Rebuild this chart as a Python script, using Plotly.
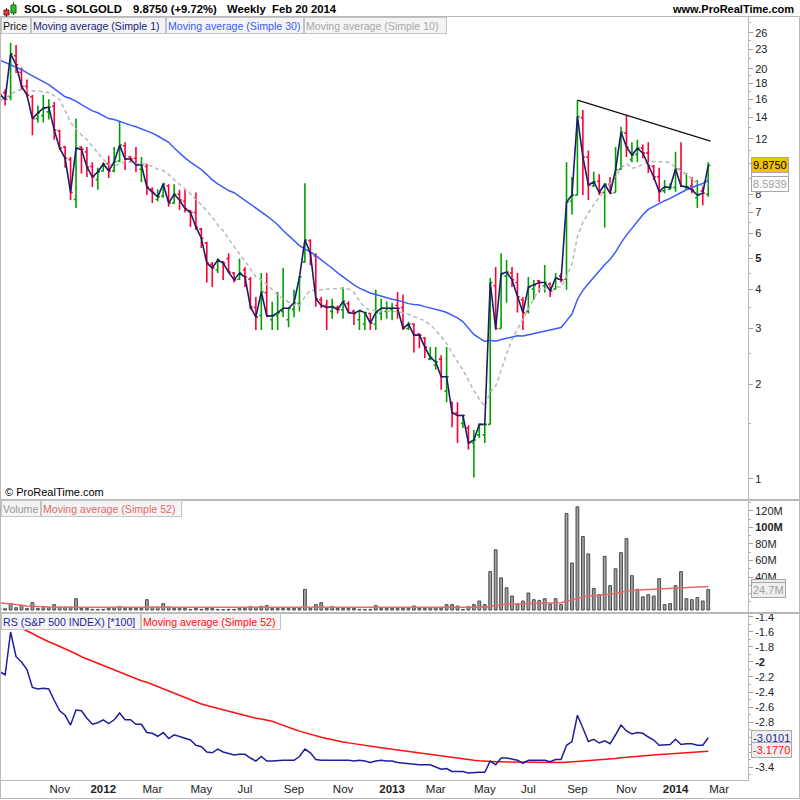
import math
import pandas as pd
import plotly.graph_objects as go

# ---------------- data (weekly bars) ----------------
dates = pd.date_range("2011-08-22", periods=131, freq="W-MON")

opens = [17.0, 16.8, 16.3, 22.0, 19.5, 17.6, 16.3, 13.9, 14.2, 14.6,
         15.2, 12.7, 11.3, 10.3, 7.7, 11.3, 10.9, 9.8, 8.9, 9.5,
         10.0, 9.5, 10.2, 11.4, 10.5, 10.4, 9.6, 9.8, 8.3, 7.7,
         7.9, 8.5, 7.5, 8.0, 7.6, 7.1, 7.0, 6.2, 5.6, 4.8,
         4.6, 4.88, 5.0, 4.5, 4.3, 4.6, 4.3, 3.5, 3.3, 3.9,
         3.2, 3.3, 3.4, 3.2, 3.45, 3.6, 4.88, 5.7, 5.1, 3.7,
         3.55, 3.4, 3.5, 3.44, 3.6, 3.4, 3.2, 3.1, 3.35, 3.1,
         3.35, 3.4, 3.45, 3.55, 3.5, 3.0, 3.1, 2.88, 2.8, 2.4,
         2.3, 2.4, 1.9, 1.75, 1.62, 1.5, 1.45, 1.3, 1.38, 1.38,
         1.49, 4.1, 3.0, 4.4, 4.5, 4.2, 3.7, 3.4, 4.0, 4.25,
         4.1, 4.15, 4.0, 4.4, 4.3, 7.6, 7.95, 14.0, 10.5, 8.5,
         8.8, 8.1, 8.6, 8.1, 9.6, 12.5, 10.3, 10.7, 11.2, 10.8,
         9.8, 9.1, 8.2, 8.3, 8.4, 9.6, 8.4, 8.5, 7.8, 8.2,
         8.0]
highs = [17.5, 17.2, 24.2, 23.8, 20.2, 18.5, 16.5, 15.3, 16.5, 16.0,
         15.7, 12.8, 11.4, 10.5, 13.9, 11.35, 11.3, 10.1, 9.7, 10.1,
         10.6, 11.3, 13.6, 11.7, 10.6, 11.3, 10.5, 10.0, 8.4, 8.3,
         8.7, 8.6, 8.6, 8.26, 8.26, 7.13, 8.1, 6.25, 5.65, 4.88,
         5.02, 4.9, 5.2, 4.53, 5.0, 4.7, 4.37, 3.78, 4.5, 4.5,
         3.65, 3.92, 4.67, 3.5, 3.98, 4.4, 8.66, 5.76, 5.2, 3.78,
         3.7, 3.73, 3.55, 4.06, 3.66, 3.44, 3.44, 3.37, 3.36, 3.98,
         3.73, 3.66, 3.62, 3.92, 3.85, 3.15, 3.12, 2.9, 2.82, 2.62,
         2.62, 2.47, 2.62, 1.76, 1.75, 1.6, 1.48, 1.43, 1.5, 1.5,
         4.34, 4.7, 5.2, 4.95, 4.7, 4.5, 3.78, 4.37, 4.28, 4.28,
         4.77, 4.2, 4.5, 4.5, 10.1, 9.07, 15.9, 14.8, 11.0, 9.42,
         9.25, 8.66, 9.07, 11.3, 13.1, 14.3, 11.7, 11.9, 11.5, 11.7,
         9.9, 9.7, 8.88, 8.66, 10.9, 11.7, 9.35, 9.07, 8.88, 8.43,
         10.1]
lows = [16.2, 15.3, 15.9, 19.4, 17.1, 16.3, 12.3, 13.5, 13.5, 13.8,
        11.9, 11.05, 9.7, 7.67, 7.24, 9.3, 9.07, 8.43, 8.26, 9.42,
        9.0, 9.4, 10.1, 9.55, 10.1, 9.4, 8.75, 7.95, 7.5, 7.6,
        7.8, 7.3, 7.45, 7.13, 7.0, 6.3, 6.16, 5.4, 4.2, 4.06,
        4.5, 4.28, 4.5, 4.2, 4.28, 4.06, 3.45, 2.97, 2.97, 3.26,
        2.97, 2.97, 3.26, 3.03, 3.26, 3.4, 4.85, 4.76, 3.52, 3.48,
        2.97, 3.22, 3.35, 3.22, 3.35, 3.08, 2.97, 2.97, 2.97, 2.97,
        3.19, 3.22, 3.19, 3.22, 2.97, 2.97, 2.52, 2.6, 2.42, 2.38,
        2.22, 1.92, 1.75, 1.46, 1.3, 1.45, 1.24, 1.01, 1.35, 1.3,
        1.49, 2.97, 3.0, 3.62, 4.06, 3.37, 2.97, 3.35, 3.7, 3.9,
        3.9, 3.78, 4.0, 4.2, 3.98, 6.9, 7.95, 7.95, 7.67, 8.43,
        7.95, 6.27, 8.0, 8.1, 9.55, 10.5, 10.1, 10.1, 10.4, 9.35,
        8.88, 7.56, 8.06, 8.26, 8.15, 8.43, 8.26, 8.06, 7.24, 7.38,
        7.85]
closes = [16.6, 16.0, 22.3, 20.6, 17.6, 16.5, 13.9, 14.5, 15.0, 15.1,
          12.8, 11.2, 10.4, 8.1, 11.2, 11.1, 9.76, 9.07, 9.42, 9.98,
          9.49, 10.13, 11.45, 10.35, 10.35, 9.9, 9.9, 8.43, 8.12, 7.85,
          8.62, 7.5, 8.0, 7.67, 7.2, 7.0, 6.3, 5.8, 4.84, 4.67,
          4.95, 4.84, 4.53, 4.28, 4.5, 4.37, 3.52, 3.26, 3.92, 3.29,
          3.29, 3.37, 3.48, 3.48, 3.62, 4.37, 5.73, 5.2, 3.73, 3.55,
          3.5, 3.52, 3.44, 3.66, 3.37, 3.35, 3.42, 3.37, 3.12, 3.37,
          3.48, 3.48, 3.48, 3.48, 3.01, 3.1, 2.86, 2.86, 2.62, 2.43,
          2.35, 2.11, 2.11, 1.62, 1.59, 1.59, 1.30, 1.33, 1.49, 1.49,
          4.2, 3.0, 4.47, 4.53, 4.28, 3.78, 3.37, 4.06, 4.12, 4.2,
          4.2, 3.95, 4.34, 4.28, 7.56, 7.95, 14.1, 10.5, 8.56, 8.75,
          8.1, 8.6, 8.06, 9.55, 12.6, 11.3, 10.65, 11.2, 10.8, 9.85,
          9.07, 8.15, 8.45, 8.4, 9.62, 8.5, 8.45, 8.26, 7.95, 8.06,
          9.875]

# moving-average values before a full window exists
sma30_head = [21.3, 21.0, 20.6, 20.2, 19.9, 19.4, 19.0, 18.6, 18.2, 17.8,
              17.3, 16.8, 16.3, 16.1, 15.8, 15.4, 15.0, 14.7, 14.5, 14.2,
              13.9, 13.8, 13.6, 13.4, 13.25, 13.1, 12.9, 12.75, 12.5]
sma10_head = [15.8, 16.2, 16.6, 17.0, 17.2, 17.1, 17.0, 17.0, 16.9]

volume_m = [1.0, 1.5, 7.7, 2.8, 5.7, 2.0, 8.9, 2.0, 2.8, 2.8,
            6.5, 3.6, 3.6, 3.6, 13.7, 2.0, 2.0, 0.8, 0.8, 0.8,
            2.0, 2.8, 4.0, 2.0, 2.0, 2.0, 2.0, 12.5, 3.6, 3.6,
            7.7, 3.6, 2.0, 2.0, 2.0, 0.8, 2.0, 0.8, 2.0, 2.0,
            0.8, 0.3, 0.8, 0.8, 2.0, 2.0, 4.0, 2.8, 4.4, 5.3,
            2.0, 2.0, 2.0, 2.0, 2.0, 2.0, 25.0, 2.0, 6.5, 8.9,
            2.0, 4.0, 2.0, 2.0, 2.0, 2.0, 0.8, 0.8, 0.8, 5.3,
            2.0, 2.0, 2.0, 2.0, 2.0, 2.0, 4.8, 2.0, 2.0, 2.8,
            2.8, 2.0, 6.5, 6.5, 4.8, 0.8, 4.0, 6.5, 10.9, 6.5,
            46.5, 73.0, 39.0, 27.0, 17.0, 6.9, 10.9, 20.6, 12.5, 11.7,
            13.7, 6.9, 13.7, 6.5, 117.0, 57.0, 125.0, 89.0, 68.0, 26.0,
            18.6, 65.0, 29.5, 50.0, 69.5, 86.5, 41.6, 25.0, 16.0, 18.6,
            17.0, 38.0, 6.5, 7.7, 29.5, 46.5, 13.7, 12.5, 15.0, 10.9,
            24.7]
vol_ma52_head = [8.9, 8.3, 7.5, 6.6, 5.7, 4.9, 4.4, 4.0, 3.8, 3.6,
                 3.5, 3.5, 3.4, 3.4, 3.4, 3.3, 3.3, 3.3, 3.3, 3.3,
                 3.2, 3.2, 3.2, 3.2, 3.2, 3.2, 3.2, 3.2, 3.2, 3.2,
                 3.2, 3.1, 3.1, 3.1, 3.1, 3.1, 3.1, 3.1, 3.1, 3.1,
                 3.1, 3.1, 3.1, 3.1, 3.1, 3.1, 3.1, 3.1, 3.1, 3.1,
                 3.1]

rs = [-2.13, -2.17, -1.60, -1.93, -2.00, -2.10, -2.34, -2.36, -2.35, -2.36,
      -2.51, -2.65, -2.71, -2.84, -2.64, -2.65, -2.75, -2.83, -2.81, -2.77,
      -2.82, -2.77, -2.68, -2.77, -2.77, -2.83, -2.83, -2.94, -2.95, -2.99,
      -2.94, -3.02, -2.97, -2.99, -3.02, -3.04, -3.11, -3.13, -3.20, -3.21,
      -3.16, -3.20, -3.22, -3.24, -3.23, -3.23, -3.28, -3.32, -3.26, -3.32,
      -3.32, -3.31, -3.31, -3.31, -3.31, -3.26, -3.16, -3.21, -3.30, -3.31,
      -3.31, -3.31, -3.31, -3.30, -3.31, -3.32, -3.31, -3.32, -3.34, -3.32,
      -3.31, -3.32, -3.32, -3.34, -3.35, -3.35, -3.36, -3.37, -3.37, -3.37,
      -3.40, -3.43, -3.42, -3.46, -3.46, -3.46, -3.48, -3.47, -3.47, -3.47,
      -3.32, -3.37, -3.28, -3.28, -3.29, -3.31, -3.35, -3.31, -3.31, -3.31,
      -3.31, -3.33, -3.30, -3.30, -3.11, -3.06, -2.71, -2.88, -3.06, -3.03,
      -3.08, -3.05, -3.09, -2.97, -2.84, -2.92, -2.96, -2.94, -2.95, -3.00,
      -3.04, -3.11, -3.10, -3.10, -3.03, -3.10, -3.09, -3.09, -3.11, -3.11,
      -3.0101]
rs_ma52_head = [-1.45, -1.48, -1.50, -1.53, -1.55, -1.58, -1.62, -1.66, -1.70, -1.73,
                -1.76, -1.79, -1.82, -1.86, -1.89, -1.93, -1.96, -1.99, -2.02, -2.05,
                -2.08, -2.11, -2.14, -2.17, -2.19, -2.22, -2.25, -2.27, -2.30, -2.33,
                -2.36, -2.39, -2.42, -2.45, -2.48, -2.51, -2.54, -2.56, -2.58, -2.60,
                -2.62, -2.64, -2.66, -2.68, -2.70, -2.72, -2.73, -2.75, -2.76, -2.77,
                -2.79]

# user-drawn resistance line (two anchor points)
trend_dates = ["2013-09-02", "2014-02-20"]
trend_prices = [15.9, 11.8]

# last-value tags shown on the right scales
tag_sma10 = 8.5939
tag_vol_ma = 28.3
tag_rs_ma = -3.1770

# x tick labels (first weekly bar of the month)
xtick_dates = ["2011-11-07", "2012-01-02", "2012-03-05", "2012-05-07", "2012-07-02",
               "2012-09-03", "2012-11-05", "2013-01-07", "2013-03-04", "2013-05-06",
               "2013-07-01", "2013-09-02", "2013-11-04", "2014-01-06", "2014-03-03"]
xtick_text = ["Nov", "<b>2012</b>", "Mar", "May", "Jul", "Sep", "Nov", "<b>2013</b>",
              "Mar", "May", "Jul", "Sep", "Nov", "<b>2014</b>", "Mar"]

price_ticks = [1, 2, 3, 4, 5, 6, 7, 8, 12, 14, 16, 18, 20, 23, 26]
price_tick_text = ["1", "2", "3", "4", "<b>5</b>", "6", "7", "8", "12", "14", "16", "18", "20", "23", "26"]
price_minor = [1.5, 2.5, 3.5, 4.5, 5.5, 6.5, 7.5, 9, 10, 11, 13, 15, 17, 19, 21.5, 24.5, 28]
vol_ticks = [40, 60, 80, 100, 120]
vol_tick_text = ["40M", "60M", "80M", "<b>100M</b>", "120M"]
rs_ticks = [-3.4, -2.8, -2.6, -2.4, -2.2, -2.0, -1.8, -1.6, -1.4]
rs_tick_text = ["-3.4", "-2.8", "-2.6", "-2.4", "-2.2", "<b>-2</b>", "-1.8", "-1.6", "-1.4"]


def sma(values, n, head):
    out = list(head)
    for i in range(len(head), len(values)):
        out.append(sum(values[i - n + 1:i + 1]) / n)
    return out


sma30 = sma(closes, 30, sma30_head)
sma10 = sma(closes, 10, sma10_head)
vol_ma52 = sma(volume_m, 52, vol_ma52_head)
rs_ma52 = sma(rs, 52, rs_ma52_head)

# ---------------- layout helpers (pixel -> paper) ----------------
W, H = 800, 800
ML, MR, MT, MB = 0, 52, 16, 20
PW, PH = W - ML - MR, H - MT - MB


def px(x):
    return (x - ML) / PW


def py(y):
    return (H - MB - y) / PH


FONT = "Liberation Sans, Arial, Helvetica, sans-serif"

fig = go.Figure()

# price panel
fig.add_trace(go.Ohlc(x=dates, open=opens, high=highs, low=lows, close=closes,
                      increasing=dict(line=dict(color="#00a000", width=1.6)),
                      decreasing=dict(line=dict(color="#ff0033", width=1.6)),
                      tickwidth=0.4, xaxis="x", yaxis="y", hoverinfo="skip"))
fig.add_trace(go.Scatter(x=dates, y=sma10, mode="lines",
                         line=dict(color="#b8b8b8", width=1.5, dash="4px,3px"),
                         xaxis="x", yaxis="y", hoverinfo="skip"))
fig.add_trace(go.Scatter(x=dates, y=sma30, mode="lines",
                         line=dict(color="#3a5cf8", width=1.5),
                         xaxis="x", yaxis="y", hoverinfo="skip"))
fig.add_trace(go.Scatter(x=dates, y=closes, mode="lines",
                         line=dict(color="#1c1c68", width=1.6),
                         xaxis="x", yaxis="y", hoverinfo="skip"))
fig.add_trace(go.Scatter(x=trend_dates, y=trend_prices, mode="lines",
                         line=dict(color="#111111", width=1.3),
                         xaxis="x", yaxis="y", hoverinfo="skip"))

# volume panel
fig.add_trace(go.Bar(x=dates, y=volume_m, width=3.6 * 24 * 3600 * 1000,
                     marker=dict(color="#a2a2a2", line=dict(color="#4a4a4a", width=1)),
                     xaxis="x", yaxis="y2", hoverinfo="skip"))
fig.add_trace(go.Scatter(x=dates, y=vol_ma52, mode="lines",
                         line=dict(color="#e26a6a", width=1.5),
                         xaxis="x", yaxis="y2", hoverinfo="skip"))

# RS panel
fig.add_trace(go.Scatter(x=dates, y=rs_ma52, mode="lines",
                         line=dict(color="#ff1010", width=1.5),
                         xaxis="x", yaxis="y3", hoverinfo="skip"))
fig.add_trace(go.Scatter(x=dates, y=rs, mode="lines",
                         line=dict(color="#1f1f9c", width=1.5),
                         xaxis="x", yaxis="y3", hoverinfo="skip"))

yax_common = dict(side="right", anchor="x", showgrid=False, zeroline=False,
                  ticks="outside", ticklen=4, tickcolor="#a0a0a0", showline=False,
                  tickfont=dict(family=FONT, size=11, color="#222222"), fixedrange=True)

fig.update_layout(
    width=W, height=H, margin=dict(l=ML, r=MR, t=MT, b=MB),
    paper_bgcolor="white", plot_bgcolor="white", showlegend=False, bargap=0,
    xaxis=dict(type="date", domain=[0, 1], anchor="y3",
               range=["2011-08-22 09:00", "2014-04-09 02:00"],
               tickmode="array", tickvals=xtick_dates, ticktext=xtick_text,
               ticks="", showgrid=False, zeroline=False, showline=False,
               tickfont=dict(family=FONT, size=11.5, color="#222222"),
               rangeslider=dict(visible=False), fixedrange=True),
    yaxis=dict(type="log", domain=[py(499), 1],
               range=[math.log10(0.864), math.log10(29.4)],
               tickmode="array", tickvals=price_ticks, ticktext=price_tick_text,
               minor=dict(tickmode="array", tickvals=price_minor, ticks="outside",
                          ticklen=2, tickcolor="#b0b0b0"),
               **yax_common),
    yaxis2=dict(domain=[py(612), py(500)], range=[-2.4, 133.3],
                tickmode="array", tickvals=vol_ticks, ticktext=vol_tick_text,
                minor=dict(tickmode="array", tickvals=[10, 20, 30, 50, 70, 90, 110, 130],
                           ticks="outside", ticklen=2, tickcolor="#b0b0b0"),
                **yax_common),
    yaxis3=dict(domain=[0, py(613)], range=[-3.573, -1.347],
                tickmode="array", tickvals=rs_ticks, ticktext=rs_tick_text,
                minor=dict(tickmode="array",
                           tickvals=[-3.5, -3.3, -3.2, -3.1, -3.0, -2.9, -2.7, -2.5, -2.3,
                                     -2.1, -1.9, -1.7, -1.5],
                           ticks="outside", ticklen=2, tickcolor="#b0b0b0"),
                **yax_common),
)

GRAY = "#b8b8b8"
shapes = []
# outer frame and header separator
shapes.append(dict(type="rect", xref="paper", yref="paper", x0=px(0.5), x1=px(799.5),
                   y0=py(798.5), y1=py(16.5), line=dict(color=GRAY, width=1)))
# panel frames
for top, bot in [(16.5, 499.5), (500.5, 612.5), (613.5, 780.5)]:
    shapes.append(dict(type="rect", xref="paper", yref="paper", x0=px(0.5), x1=px(748.5),
                       y0=py(bot), y1=py(top), line=dict(color=GRAY, width=1)))
for yy in [499.5, 500.5, 612.5, 613.5]:
    shapes.append(dict(type="line", xref="paper", yref="paper", x0=px(748.5), x1=px(799.5),
                       y0=py(yy), y1=py(yy), line=dict(color=GRAY, width=1)))
# header candle icon
shapes += [
    dict(type="line", xref="paper", yref="paper", x0=px(6.5), x1=px(6.5), y0=py(17), y1=py(8),
         line=dict(color="#7a1010", width=1)),
    dict(type="rect", xref="paper", yref="paper", x0=px(4), x1=px(9), y0=py(15), y1=py(10),
         fillcolor="#e33b3b", line=dict(color="#7a1010", width=1)),
    dict(type="line", xref="paper", yref="paper", x0=px(13.5), x1=px(13.5), y0=py(15), y1=py(2),
         line=dict(color="#106010", width=1)),
    dict(type="rect", xref="paper", yref="paper", x0=px(11), x1=px(16), y0=py(13), y1=py(5),
         fillcolor="#32c032", line=dict(color="#106010", width=1)),
]
fig.update_layout(shapes=shapes)

ann = []


def text(x, y, s, size=12, color="#000", bold=False, anchor="left"):
    ann.append(dict(xref="paper", yref="paper", x=px(x), y=py(y), text=("<b>%s</b>" % s) if bold else s,
                    showarrow=False, xanchor=anchor, yanchor="middle",
                    font=dict(family=FONT, size=size, color=color)))


text(22, 8.5, "SOLG - SOLGOLD", 11.3, bold=True)
text(131, 8.5, "9.8750 (+9.72%)", 11.3, bold=True)
text(225, 8.5, "Weekly  Feb 20 2014", 11.3, bold=True)
text(796, 8.5, "www.ProRealTime.com", 11, bold=True, anchor="right")
text(3, 492, "© ProRealTime.com", 11)


def legend_box(x0, x1, yc, s, color, h=13):
    ann.append(dict(xref="paper", yref="paper", x=px(x0), y=py(yc), text=s, showarrow=False,
                    xanchor="left", yanchor="middle", width=x1 - x0 - 4, height=h, align="left",
                    bgcolor="#f4f4f4", bordercolor="#c4c4c4", borderwidth=1, borderpad=1,
                    font=dict(family=FONT, size=10.6, color=color)))


legend_box(1, 31, 25.5, "Price", "#111111")
legend_box(31, 166, 25.5, "Moving average (Simple 1)", "#1c1c80")
legend_box(166, 304, 25.5, "Moving average (Simple 30)", "#3a5cf8")
legend_box(304, 447, 25.5, "Moving average (Simple 10)", "#a8a8a8")
legend_box(1, 41, 508, "Volume", "#999999")
legend_box(41, 182, 508, "Moving average (Simple 52)", "#e26a6a")
legend_box(1, 141, 621, "RS (S&P 500 INDEX) [*100]", "#1f1f9c")
legend_box(141, 281, 621, "Moving average (Simple 52)", "#ff1010")


def tag(yref, yval, s, color, bg):
    ann.append(dict(xref="paper", yref=yref, x=px(751), y=yval, text=s, showarrow=False,
                    xanchor="left", yanchor="middle", bgcolor=bg, bordercolor="#a8a8a8",
                    borderwidth=1, borderpad=1,
                    font=dict(family=FONT, size=11, color=color)))


tag("y", math.log10(sma30[-1]), "%.4f" % sma30[-1], "#3a5cf8", "#ffffff")
tag("y", math.log10(tag_sma10), "%.4f" % tag_sma10, "#a0a0a0", "#ffffff")
tag("y", math.log10(closes[-1]), "%.4f" % closes[-1], "#000000", "#f2c200")
tag("y2", tag_vol_ma, "%.1fM" % tag_vol_ma, "#e26a6a", "#eeeeee")
tag("y2", volume_m[-1], "%.1fM" % volume_m[-1], "#a0a0a0", "#eeeeee")
tag("y3", rs[-1], "%.4f" % rs[-1], "#1f1f9c", "#eeeeee")
tag("y3", tag_rs_ma, "%.4f" % tag_rs_ma, "#ff1010", "#eeeeee")

fig.update_layout(annotations=ann)
fig.write_html("out.html", config={"displayModeBar": False, "staticPlot": True},
               post_script="document.body.style.margin='0';document.body.style.overflow='hidden';")
